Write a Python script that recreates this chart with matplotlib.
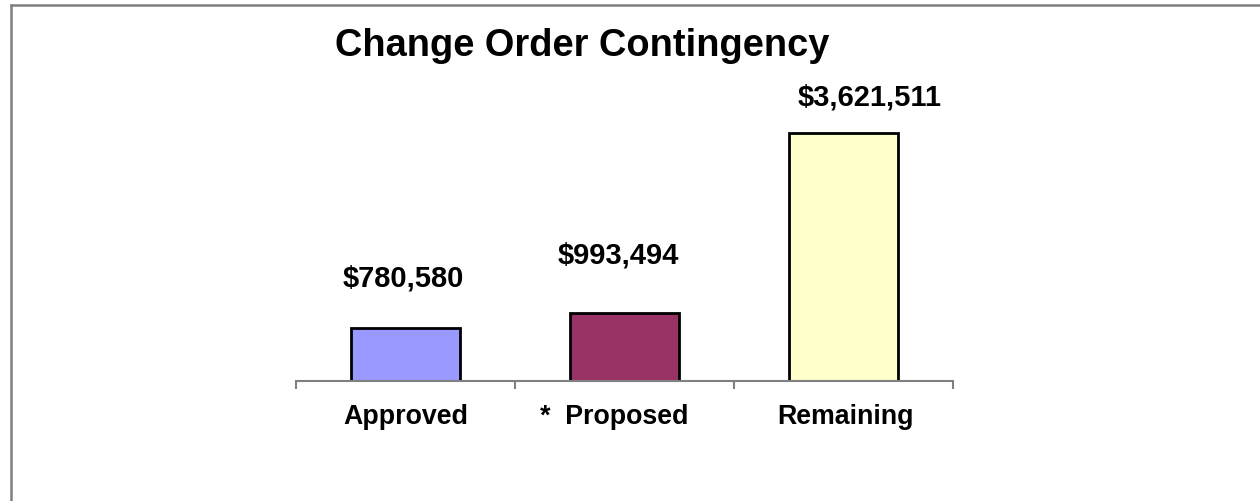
import matplotlib
matplotlib.use("Agg")
import matplotlib.pyplot as plt
from matplotlib.lines import Line2D

categories = ["Approved", "*  Proposed", "Remaining"]
values = [780580, 993494, 3621511]
value_labels = ["$780,580", "$993,494", "$3,621,511"]
colors = ["#9999FF", "#993366", "#FFFFCC"]
title = "Change Order Contingency"

plt.rcParams['font.family'] = ['Liberation Sans', 'DejaVu Sans']

W, H = 1260, 502
fig = plt.figure(figsize=(W / 100, H / 100), dpi=100)
fig.patch.set_facecolor("white")

ax = fig.add_axes([296 / W, (H - 382) / H, 657 / W, (382 - 108.1) / H])
x = list(range(len(categories)))
ax.bar(x, values, width=0.5, color=colors, edgecolor="black", linewidth=2, zorder=2)
ax.set_xlim(-0.5, len(categories) - 0.5)
ax.set_ylim(0, 4000000)

for s in ["top", "right", "left"]:
    ax.spines[s].set_visible(False)
ax.spines["bottom"].set_color("#808080")
ax.spines["bottom"].set_linewidth(1.5)
ax.spines["bottom"].set_zorder(3)
ax.set_yticks([])

ax.set_xticks(x)
ax.set_xticklabels(categories, fontsize=19.3, fontweight="bold")
ax.tick_params(axis="x", which="major", length=0, pad=16)
ax.set_xticks([i - 0.5 for i in range(len(categories) + 1)], minor=True)
ax.tick_params(axis="x", which="minor", length=6, width=1.5, color="#808080")
# nudge the "* Proposed" label (layout only)
tick_dx = [0, -10, 2]
import matplotlib.transforms as mtransforms
for lbl, dx in zip(ax.get_xticklabels(), tick_dx):
    lbl.set_transform(lbl.get_transform() + mtransforms.ScaledTranslation(dx / 100, 0, fig.dpi_scale_trans))

# label offsets in pixels (layout only)
label_offsets = [(-2, 50), (-6, 58), (26, 37)]
for i, (v, lab) in enumerate(zip(values, value_labels)):
    dx, dy = label_offsets[i]
    ax.annotate(lab, xy=(i, v), xytext=(dx * 0.72, dy * 0.72), textcoords="offset points",
                ha="center", va="center", fontsize=21, fontweight="bold")

fig.text(582.5 / W, (H - 56) / H, title, ha="center", va="baseline",
         fontsize=27.4, fontweight="bold")

# partial frame (top and left edges)
fig.add_artist(Line2D([11 / W, 1.0], [(H - 6) / H, (H - 6) / H], transform=fig.transFigure,
                      color="#808080", linewidth=1.8))
fig.add_artist(Line2D([11 / W, 11 / W], [0, (H - 6) / H], transform=fig.transFigure,
                      color="#808080", linewidth=1.8))

fig.savefig("out.png", dpi=100)
